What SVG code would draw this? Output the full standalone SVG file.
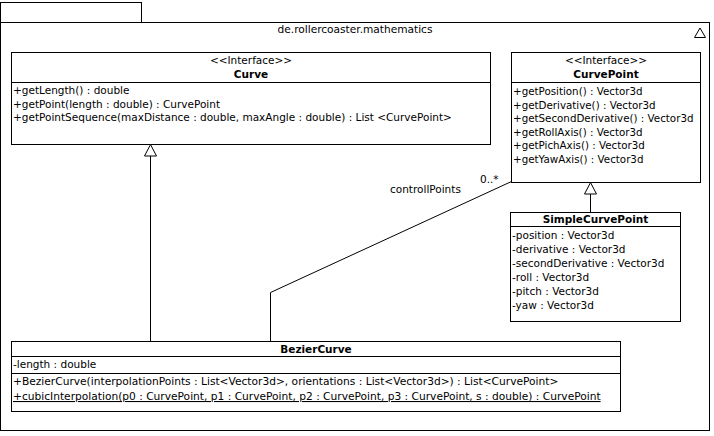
<svg xmlns="http://www.w3.org/2000/svg" width="714" height="436" viewBox="0 0 714 436">
<style>
  .box{fill:#fff;stroke:#000;stroke-width:1}
  .ln{fill:none;stroke:#000;stroke-width:1}
  .t{font-family:"DejaVu Sans","Liberation Sans",sans-serif;font-size:10.5px;fill:#000}
  .s{font-size:10.3px}
  .w{font-size:10.65px}
  .c{text-anchor:middle}
  .b{font-weight:bold}
  .tri{fill:#fff;stroke:#000;stroke-width:1}
</style>
<rect width="714" height="436" fill="#fff"/>
<g id="package">
  <rect class="box" x="0.5" y="2.5" width="141" height="20"/>
  <rect class="box" x="0.5" y="22.5" width="709" height="408"/>
  <text class="t c" x="355" y="33" style="font-size:10.6px">de.rollercoaster.mathematics</text>
  <polygon class="ln" points="694.5,37.5 705.5,37.5 700,28"/>
</g>
<g id="Curve">
  <rect class="box" x="11.5" y="52.5" width="479" height="92"/>
  <line class="ln" x1="11.5" y1="82.5" x2="490.5" y2="82.5"/>
  <text class="t c" x="251" y="64">&lt;&lt;Interface&gt;&gt;</text>
  <text class="t c b" x="251" y="78">Curve</text>
  <text class="t" x="13" y="94">+getLength() : double</text>
  <text class="t" x="13" y="107.5">+getPoint(length : double) : CurvePoint</text>
  <text class="t" x="13" y="121">+getPointSequence(maxDistance : double, maxAngle : double) : List &lt;CurvePoint&gt;</text>
</g>
<g id="CurvePoint">
  <rect class="box" x="511.5" y="52.5" width="189" height="130"/>
  <line class="ln" x1="511.5" y1="82.5" x2="700.5" y2="82.5"/>
  <text class="t c" x="606" y="64">&lt;&lt;Interface&gt;&gt;</text>
  <text class="t c b" x="606" y="78">CurvePoint</text>
  <text class="t s" x="513" y="95">+getPosition() : Vector3d</text>
  <text class="t s" x="513" y="108.5">+getDerivative() : Vector3d</text>
  <text class="t s" x="513" y="122">+getSecondDerivative() : Vector3d</text>
  <text class="t s" x="513" y="135.5">+getRollAxis() : Vector3d</text>
  <text class="t s" x="513" y="149">+getPichAxis() : Vector3d</text>
  <text class="t s" x="513" y="162.5">+getYawAxis() : Vector3d</text>
</g>
<g id="SimpleCurvePoint">
  <rect class="box" x="510.5" y="212.5" width="170" height="109"/>
  <line class="ln" x1="510.5" y1="226.5" x2="680.5" y2="226.5"/>
  <text class="t c b" x="595.5" y="223">SimpleCurvePoint</text>
  <text class="t" x="512" y="239">-position : Vector3d</text>
  <text class="t" x="512" y="253">-derivative : Vector3d</text>
  <text class="t" x="512" y="266.5">-secondDerivative : Vector3d</text>
  <text class="t" x="512" y="280.5">-roll : Vector3d</text>
  <text class="t" x="512" y="294.5">-pitch : Vector3d</text>
  <text class="t" x="512" y="308.5">-yaw : Vector3d</text>
</g>
<g id="BezierCurve">
  <rect class="box" x="11.5" y="341.5" width="609" height="70"/>
  <line class="ln" x1="11.5" y1="356.5" x2="620.5" y2="356.5"/>
  <line class="ln" x1="11.5" y1="373.5" x2="620.5" y2="373.5"/>
  <text class="t c b" x="316" y="353">BezierCurve</text>
  <text class="t" x="13" y="368">-length : double</text>
  <text class="t w" x="13" y="385">+BezierCurve(interpolationPoints : List&lt;Vector3d&gt;, orientations : List&lt;Vector3d&gt;) : List&lt;CurvePoint&gt;</text>
  <text class="t w" x="13" y="400" text-decoration="underline">+cubicInterpolation(p0 : CurvePoint, p1 : CurvePoint, p2 : CurvePoint, p3 : CurvePoint, s : double) : CurvePoint</text>
</g>
<g id="connectors">
  <line class="ln" x1="150.5" y1="156" x2="150.5" y2="341.5"/>
  <polygon class="tri" points="150.5,144.5 144.5,156 156.5,156"/>
  <line class="ln" x1="590.5" y1="194" x2="590.5" y2="212.5"/>
  <polygon class="tri" points="590.5,182.5 584.5,194 596.5,194"/>
  <polyline class="ln" points="270.5,341.5 270.5,292.5 511.5,181.5"/>
  <text class="t" x="480" y="183">0..*</text>
  <text class="t" x="390" y="193">controllPoints</text>
</g>
</svg>
